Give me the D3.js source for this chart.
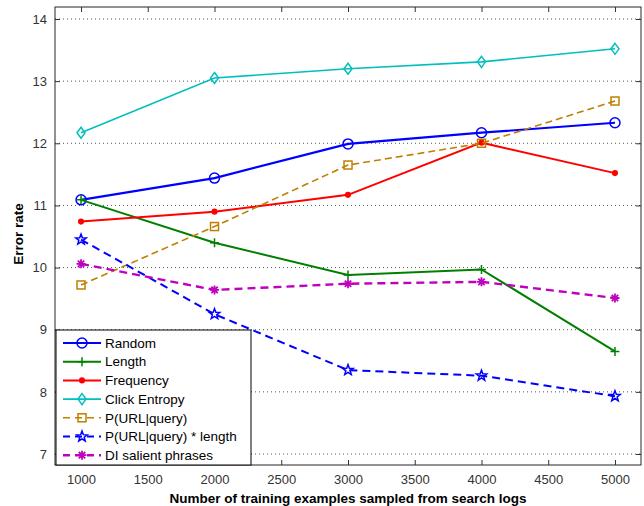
<!DOCTYPE html>
<html><head><meta charset="utf-8">
<script src="https://cdn.jsdelivr.net/npm/d3@7"></script>
<style>body{margin:0;background:#fff;} text{font-family:"Liberation Sans",Arial,sans-serif;}</style>
</head><body><svg id="c" width="644" height="506"></svg>
<script>
const xValues = [1000, 2000, 3000, 4000, 5000];
const xTicks = [1000, 1500, 2000, 2500, 3000, 3500, 4000, 4500, 5000];
const yTicks = [7, 8, 9, 10, 11, 12, 13, 14];
const seriesNames = ["Random", "Length", "Frequency", "Click Entropy", "P(URL|query)", "P(URL|query) * length", "DI salient phrases"];
const random = [11.09, 11.44, 11.99, 12.17, 12.33];
const length = [11.09, 10.40, 9.88, 9.97, 8.65];
const frequency = [10.74, 10.90, 11.17, 12.01, 11.52];
const clickEntropy = [12.17, 13.05, 13.20, 13.31, 13.52];
const pUrlQuery = [9.72, 10.66, 11.65, 12.00, 12.68];
const pUrlQueryLength = [10.45, 9.25, 8.35, 8.26, 7.93];
const diSalient = [10.06, 9.64, 9.74, 9.77, 9.51];

const styles = [
  {color:"#0000ff", dash:null, w:2.2, marker:"circle"},
  {color:"#008000", dash:null, w:2, marker:"plus"},
  {color:"#ff0000", dash:null, w:2, marker:"dot"},
  {color:"#00bfbf", dash:null, w:1.6, marker:"diamond"},
  {color:"#bf7f00", dash:"7,4", w:1.6, marker:"square"},
  {color:"#0000ff", dash:"8,5", w:2, marker:"star"},
  {color:"#bf00bf", dash:"8,5", w:2.4, marker:"asterisk"}
];
const allData = [random, length, frequency, clickEntropy, pUrlQuery, pUrlQueryLength, diSalient];

const svg = d3.select("#c");
const L = 55, R = 641, T = 7, B = 465;
const x = d3.scaleLinear().domain([805, 5195]).range([L, R]);
const y = d3.scaleLinear().domain([6.823, 14.193]).range([B, T]);

// grid
svg.append("g").selectAll("line").data(yTicks).join("line")
  .attr("x1", L).attr("x2", R).attr("y1", d=>y(d)).attr("y2", d=>y(d))
  .attr("stroke", "#555").attr("stroke-width", 1).attr("stroke-dasharray", "1,3");

// axes
const axL = svg.append("g").attr("transform", `translate(${L},0)`)
  .call(d3.axisLeft(y).tickValues(yTicks).tickSize(-5).tickPadding(8).tickFormat(d3.format("d")));
const axR = svg.append("g").attr("transform", `translate(${R},0)`)
  .call(d3.axisRight(y).tickValues(yTicks).tickSize(-5).tickFormat(""));
const axB = svg.append("g").attr("transform", `translate(0,${B})`)
  .call(d3.axisBottom(x).tickValues(xTicks).tickSize(-5).tickPadding(10).tickFormat(d3.format("d")));
const axT = svg.append("g").attr("transform", `translate(0,${T})`)
  .call(d3.axisTop(x).tickValues(xTicks).tickSize(-5).tickFormat(""));
[axL, axR, axB, axT].forEach(a => {
  a.select(".domain").remove();
  a.selectAll(".tick line").attr("stroke", "#333");
  a.selectAll("text").attr("font-size", 13).attr("fill", "#333")
    .attr("font-family", "Liberation Sans, Arial, sans-serif");
});
svg.append("rect").attr("x", L).attr("y", T).attr("width", R-L).attr("height", B-T)
  .attr("fill", "none").attr("stroke", "#262626").attr("stroke-width", 1);

function drawMarker(g, type, color, cx, cy) {
  const s = g.append("g").attr("transform", `translate(${cx},${cy})`)
    .attr("stroke", color).attr("fill", "none").attr("stroke-width", 1.5);
  if (type === "circle") s.append("circle").attr("r", 5);
  else if (type === "plus") { s.append("path").attr("d", "M-4.5,0H4.5M0,-4.5V4.5"); }
  else if (type === "dot") s.append("circle").attr("r", 2.3).attr("fill", color);
  else if (type === "diamond") s.append("path").attr("d", "M0,-5.5L4,0L0,5.5L-4,0Z");
  else if (type === "square") s.append("rect").attr("x", -4).attr("y", -4).attr("width", 8).attr("height", 8);
  else if (type === "star") {
    const pts = [];
    for (let i = 0; i < 10; i++) {
      const r = i % 2 === 0 ? 5.5 : 2.3, a = -Math.PI/2 + i*Math.PI/5;
      pts.push([r*Math.cos(a), r*Math.sin(a)]);
    }
    s.append("path").attr("d", "M" + pts.map(p => p.join(",")).join("L") + "Z");
  } else if (type === "asterisk") {
    s.append("path").attr("d", "M-4.5,0H4.5M0,-4.5V4.5M-3.2,-3.2L3.2,3.2M-3.2,3.2L3.2,-3.2").attr("stroke-width", 1.8);
  }
}

const line = d3.line().x((d,i)=>x(xValues[i])).y(d=>y(d));
allData.forEach((data, k) => {
  const st = styles[k];
  const g = svg.append("g");
  g.append("path").datum(data).attr("d", line).attr("fill", "none")
    .attr("stroke", st.color).attr("stroke-width", st.w)
    .attr("stroke-dasharray", st.dash);
  data.forEach((v, i) => drawMarker(g, st.marker, st.color, x(xValues[i]), y(v)));
});

// legend
const lg = svg.append("g");
lg.append("rect").attr("x", 56).attr("y", 330).attr("width", 195).attr("height", 135)
  .attr("fill", "#fff").attr("stroke", "#000").attr("stroke-width", 1);
seriesNames.forEach((name, k) => {
  const st = styles[k];
  const cy = 343 + k*18.7;
  lg.append("line").attr("x1", 63).attr("x2", 101).attr("y1", cy).attr("y2", cy)
    .attr("stroke", st.color).attr("stroke-width", st.w)
    .attr("stroke-dasharray", st.dash ? "7,5" : null);
  drawMarker(lg, st.marker, st.color, 82, cy);
  lg.append("text").attr("x", 105).attr("y", cy).attr("dy", "0.35em")
    .attr("font-size", 13.5).attr("fill", "#000").text(name);
});

// titles
svg.append("text").attr("x", 348).attr("y", 498).attr("dy", "0.35em").attr("text-anchor", "middle")
  .attr("font-size", 13.5).attr("font-weight", "bold").attr("fill", "#000")
  .text("Number of training examples sampled from search logs");
svg.append("text").attr("transform", "translate(18,234) rotate(-90)").attr("dy", "0.35em")
  .attr("text-anchor", "middle").attr("font-size", 13.5).attr("font-weight", "bold").attr("fill", "#000")
  .text("Error rate");
</script></body></html>
